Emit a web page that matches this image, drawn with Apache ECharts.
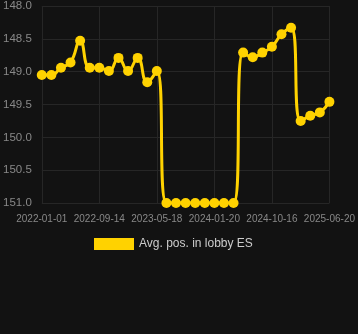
<!DOCTYPE html>
<html><head><meta charset="utf-8">
<script src="https://cdn.jsdelivr.net/npm/echarts@6/dist/echarts.min.js"></script>
<style>html,body{margin:0;padding:0;background:#121212;}#c{width:358px;height:334px;}</style>
</head><body><div id="c"></div>
<script>
var categories = ['2022-01-01','2022-02-12','2022-03-27','2022-05-09','2022-06-20','2022-08-02','2022-09-14',
'2022-10-25','2022-12-05','2023-01-15','2023-02-25','2023-04-07','2023-05-18',
'2023-06-28','2023-08-08','2023-09-18','2023-10-29','2023-12-10','2024-01-20',
'2024-03-05','2024-04-19','2024-06-03','2024-07-18','2024-09-01','2024-10-16',
'2024-11-26','2025-01-06','2025-02-16','2025-03-29','2025-05-10','2025-06-20'];
var seriesName = 'Avg. pos. in lobby ES';
var values = [149.05,149.05,148.94,148.86,148.53,148.94,148.94,148.99,148.79,148.99,148.79,149.16,148.99,
151,151,151,151,151,151,151,151,
148.71,148.78,148.71,148.62,148.43,148.33,149.75,149.67,149.62,149.46];
var chart = echarts.init(document.getElementById('c'));
chart.setOption({
  backgroundColor:'#121212',
  animation:false,
  grid:{left:40,right:28,top:6,bottom:131},
  legend:{top:233,left:89,itemWidth:40,itemHeight:12,itemGap:10,
    textStyle:{color:'#cccccc',fontSize:12},data:[{name:seriesName,icon:'rect'}]},
  xAxis:{type:'category',data:categories,boundaryGap:false,
    axisLine:{show:false},axisTick:{show:false},
    axisLabel:{interval:5,color:'#888',fontSize:10,margin:11},
    splitLine:{show:true,interval:5,lineStyle:{color:'#262626'}}},
  yAxis:{type:'value',inverse:true,min:148,max:151,interval:0.5,
    axisLine:{show:false},axisTick:{show:false},
    axisLabel:{color:'#888',fontSize:11.5,margin:10,formatter:function(v){return v.toFixed(1);}},
    splitLine:{lineStyle:{color:'#262626'}}},
  series:[{name:seriesName,type:'line',data:values,smooth:true,
    symbol:'circle',symbolSize:10,showAllSymbol:true,
    lineStyle:{color:'#FFD200',width:3},
    itemStyle:{color:'#FFD200'}}]
});
</script></body></html>
